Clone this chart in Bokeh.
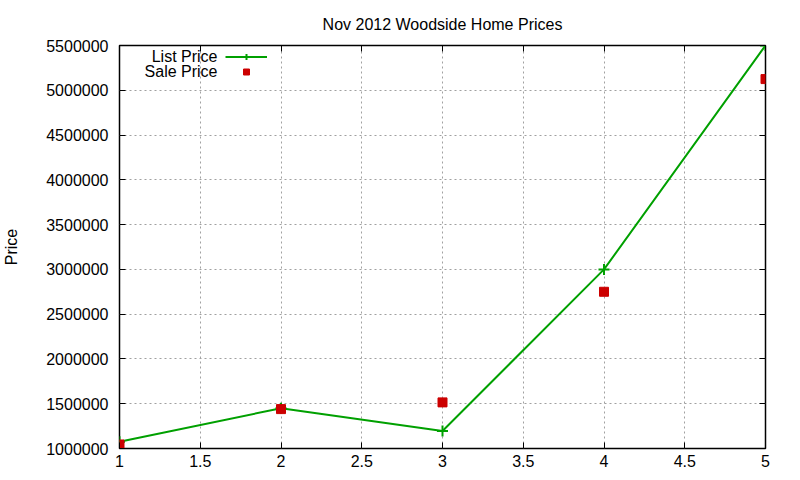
from bokeh.plotting import figure
from bokeh.models import (ColumnDataSource, LinearAxis, FixedTicker, NumeralTickFormatter,
                          Range1d, Legend, LegendItem, Label)
from bokeh.embed import file_html
from bokeh.resources import INLINE

# data
homes = [1, 2, 3, 4, 5]
list_price = [1075000, 1450000, 1195000, 3000000, 5500000]
sale_price = [1045000, 1440000, 1515000, 2750000, 5125000]

x_ticks = [1, 1.5, 2, 2.5, 3, 3.5, 4, 4.5, 5]
y_ticks = [1000000, 1500000, 2000000, 2500000, 3000000, 3500000, 4000000, 4500000, 5000000, 5500000]

FONT = "Liberation Sans"
GREEN = "#00a000"
RED = "#cc0000"

source = ColumnDataSource(data=dict(x=homes, list_price=list_price, sale_price=sale_price))

p = figure(width=800, height=480, output_backend="svg", toolbar_location=None,
           x_range=Range1d(1, 5), y_range=Range1d(1000000, 5500000),
           min_border_left=118, min_border_right=35, min_border_top=45, min_border_bottom=32,
           title="Nov 2012 Woodside Home Prices")
p.title.align = "center"
p.title.text_font = FONT
p.title.text_font_size = "16px"
p.title.text_font_style = "normal"
p.title.text_color = "black"
p.title.standoff = 26
p.outline_line_color = "black"
p.outline_line_width = 1.5
p.background_fill_color = "white"
p.border_fill_color = "white"

# gnuplot-style dashed grid
p.xgrid.ticker = FixedTicker(ticks=x_ticks)
p.ygrid.ticker = FixedTicker(ticks=y_ticks)
for g in (p.xgrid, p.ygrid):
    g.grid_line_color = "#a0a0a0"
    g.grid_line_dash = "2 3"
    g.grid_line_width = 1

def style_axis(ax, ticks, fmt, labels=True):
    ax.ticker = FixedTicker(ticks=ticks)
    ax.formatter = NumeralTickFormatter(format=fmt)
    ax.axis_line_color = None
    ax.major_tick_in = 6
    ax.major_tick_out = 0
    ax.major_tick_line_color = "black"
    ax.minor_tick_line_color = None
    ax.major_label_text_font = FONT
    ax.major_label_text_font_size = "16px"
    ax.major_label_text_color = "black"
    ax.major_label_standoff = 6
    if not labels:
        ax.major_label_text_alpha = 0
        ax.major_label_text_font_size = "1px"

style_axis(p.xaxis[0], x_ticks, "0.[0]")
style_axis(p.yaxis[0], y_ticks, "0")
p.yaxis[0].major_label_standoff = 11
p.yaxis[0].axis_label = "Price"
p.yaxis[0].axis_label_text_font = FONT
p.yaxis[0].axis_label_text_font_size = "16px"
p.yaxis[0].axis_label_text_font_style = "normal"
p.yaxis[0].axis_label_text_color = "black"
p.yaxis[0].axis_label_standoff = 23

right = LinearAxis()
style_axis(right, y_ticks, "0", labels=False)
p.add_layout(right, "right")
top = LinearAxis()
style_axis(top, x_ticks, "0.[0]", labels=False)
p.add_layout(top, "above")

ln = p.line("x", "list_price", source=source, line_color=GREEN, line_width=2)
cr = p.scatter("x", "list_price", source=source, marker="cross", size=11, line_color=GREEN, line_width=2)
sq = p.scatter("x", "sale_price", source=source, marker="square", size=9,
               fill_color=RED, line_color=RED)

legend = Legend(items=[LegendItem(label=" ", renderers=[ln, cr]),
                       LegendItem(label=" ", renderers=[sq])],
                location=(106, 369), orientation="vertical",
                glyph_width=42, glyph_height=15, label_width=0, label_height=15,
                label_text_font_size="1px", label_standoff=0, spacing=0,
                padding=0, margin=0, background_fill_alpha=0, border_line_color=None)
p.add_layout(legend, "center")

for txt, yy in (("List Price", 392), ("Sale Price", 377)):
    p.add_layout(Label(x=98, y=yy, x_units="screen", y_units="screen", text=txt,
                       text_align="right", text_baseline="middle",
                       text_font=FONT, text_font_size="16px", text_color="black"))

open("out.html", "w").write(file_html(p, INLINE))
